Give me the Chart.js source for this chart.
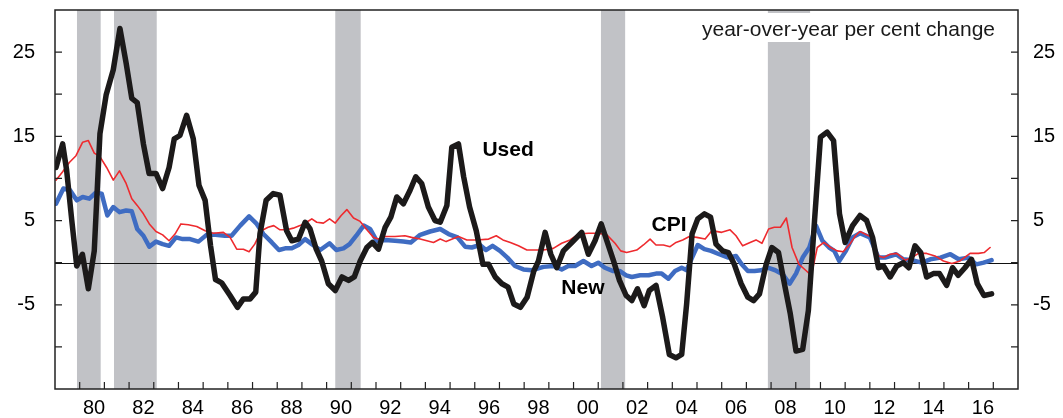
<!DOCTYPE html>
<html>
<head>
<meta charset="utf-8">
<script src="https://cdn.jsdelivr.net/npm/chart.js@4.4.1/dist/chart.umd.min.js"></script>
<style>
  html, body { margin: 0; padding: 0; background: #fff; }
</style>
</head>
<body>
<canvas id="carChart" width="1063" height="418"></canvas>
<script>
// Used vehicle prices, year-over-year % change (decimal year / value)
const usedYears = [1979.04,1979.31,1979.47,1979.68,1979.88,1980.11,1980.35,1980.59,1980.82,1981.07,1981.36,1981.63,1981.88,1982.11,1982.33,1982.58,1982.81,1983.09,1983.36,1983.62,1983.83,1984.06,1984.33,1984.6,1984.83,1985.08,1985.3,1985.5,1985.75,1986.09,1986.39,1986.63,1986.9,1987.13,1987.3,1987.55,1987.84,1988.11,1988.38,1988.59,1988.86,1989.13,1989.33,1989.58,1989.8,1990.07,1990.35,1990.62,1990.89,1991.12,1991.36,1991.63,1991.85,1992.1,1992.37,1992.6,1992.84,1993.11,1993.38,1993.61,1993.85,1994.12,1994.39,1994.6,1994.87,1995.07,1995.34,1995.55,1995.79,1996.06,1996.33,1996.56,1996.83,1997.1,1997.35,1997.58,1997.85,1998.12,1998.39,1998.58,1998.85,1999.08,1999.32,1999.59,1999.93,2000.33,2000.6,2000.87,2001.12,2001.35,2001.62,2001.86,2002.13,2002.36,2002.59,2002.86,2003.07,2003.34,2003.61,2003.88,2004.15,2004.38,2004.58,2004.8,2005.03,2005.3,2005.55,2005.77,2006.04,2006.27,2006.51,2006.79,2007.06,2007.29,2007.53,2007.8,2008.03,2008.3,2008.54,2008.78,2009.01,2009.28,2009.51,2009.76,2010.0,2010.27,2010.53,2010.77,2011.0,2011.3,2011.6,2011.87,2012.11,2012.35,2012.55,2012.82,2013.09,2013.36,2013.58,2013.83,2014.06,2014.3,2014.57,2014.82,2015.11,2015.35,2015.58,2015.85,2016.12,2016.35,2016.62,2016.93];
const usedValues = [11.3,14.1,11.0,5.0,-0.4,1.0,-3.1,1.4,15.3,19.9,22.9,27.8,23.7,19.5,19.0,14.1,10.6,10.6,8.8,11.3,14.7,15.1,17.5,14.7,9.2,7.4,2.0,-2.0,-2.4,-3.9,-5.3,-4.3,-4.3,-3.5,3.4,7.4,8.2,8.0,3.8,2.6,2.8,4.8,4.0,1.6,0.2,-2.5,-3.3,-1.7,-2.1,-1.7,0.2,1.8,2.4,1.6,4.2,5.4,7.8,7.0,8.6,10.2,9.4,6.6,5.0,4.8,6.8,13.7,14.1,10.2,6.6,3.8,-0.2,-0.2,-1.7,-2.5,-2.9,-4.9,-5.3,-4.1,-1.0,0.2,3.6,1.0,-0.6,1.4,2.4,3.6,1.0,2.6,4.6,2.6,0.2,-2.1,-3.9,-4.5,-3.1,-5.1,-3.3,-2.7,-6.5,-10.9,-11.3,-10.9,-4.9,3.4,5.2,5.8,5.4,2.2,1.4,1.2,-0.2,-2.5,-4.1,-4.5,-3.7,-0.2,1.8,1.2,-2.5,-6.1,-10.5,-10.3,-5.7,5.0,14.9,15.5,14.5,5.8,2.4,4.4,5.6,5.0,3.0,-0.6,-0.4,-1.7,-0.4,0.0,-0.6,2.0,1.2,-1.7,-1.3,-1.3,-2.7,-0.6,-1.5,-0.6,0.4,-2.5,-3.9,-3.7];

// New vehicle prices
const newYears = [1979.04,1979.34,1979.61,1979.88,1980.12,1980.39,1980.65,1980.89,1981.12,1981.36,1981.61,1981.88,1982.11,1982.33,1982.58,1982.82,1983.09,1983.36,1983.62,1983.9,1984.17,1984.47,1984.81,1985.14,1985.5,1985.88,1986.15,1986.5,1986.86,1987.17,1987.44,1987.78,1988.07,1988.32,1988.59,1988.86,1989.13,1989.4,1989.74,1990.12,1990.39,1990.68,1990.93,1991.2,1991.5,1991.76,1992.03,1992.37,1992.77,1993.11,1993.41,1993.79,1994.19,1994.6,1994.94,1995.3,1995.61,1995.88,1996.21,1996.45,1996.72,1997.02,1997.32,1997.63,1997.97,1998.31,1998.78,1999.18,1999.52,1999.79,2000.06,2000.4,2000.73,2001.0,2001.27,2001.61,2001.88,2002.13,2002.36,2002.7,2003.04,2003.34,2003.57,2003.84,2004.11,2004.38,2004.58,2004.8,2005.03,2005.3,2005.57,2005.9,2006.27,2006.58,2006.81,2007.06,2007.33,2007.6,2007.87,2008.17,2008.48,2008.75,2009.01,2009.28,2009.55,2009.82,2010.08,2010.35,2010.56,2010.76,2011.03,2011.3,2011.6,2012.0,2012.35,2012.62,2013.06,2013.36,2013.7,2014.11,2014.45,2014.86,2015.26,2015.6,2016.0,2016.31,2016.61,2016.93];
const newValues = [7.0,8.8,8.6,7.4,7.8,7.6,8.3,8.2,5.6,6.6,6.0,6.2,6.1,4.0,3.2,1.9,2.5,2.2,2.0,3.0,2.8,2.8,2.5,3.3,3.3,3.2,3.2,4.4,5.5,4.6,3.4,2.4,1.5,1.7,1.7,2.1,2.8,2.2,1.5,2.3,1.5,1.7,2.2,3.2,4.4,4.0,2.6,2.7,2.6,2.5,2.4,3.3,3.7,4.0,3.4,3.0,1.9,1.8,2.1,1.5,2.0,1.4,0.6,-0.4,-0.8,-0.9,-0.5,-0.4,-0.8,-0.4,-0.4,0.2,-0.4,0.0,-0.6,-1.0,-1.0,-1.5,-1.7,-1.5,-1.5,-1.3,-1.3,-1.9,-1.0,-0.6,-0.9,0.6,2.1,1.6,1.4,1.0,0.6,0.8,-0.2,-1.0,-1.0,-0.9,-0.6,-0.9,-1.4,-2.5,-1.3,0.6,1.8,4.4,2.6,1.8,1.4,0.2,1.4,3.0,3.5,3.0,0.6,0.6,1.0,0.4,0.3,0.0,0.4,0.6,1.0,0.4,0.6,-0.2,0.0,0.3];

// Consumer price index
const cpiYears = [1979.04,1979.31,1979.58,1979.85,1980.12,1980.35,1980.59,1980.82,1981.09,1981.36,1981.61,1981.88,1982.11,1982.33,1982.58,1982.82,1983.09,1983.36,1983.62,1983.86,1984.1,1984.4,1984.74,1985.08,1985.41,1985.82,1986.09,1986.36,1986.63,1986.86,1987.09,1987.36,1987.63,1987.86,1988.11,1988.38,1988.65,1988.92,1989.19,1989.4,1989.6,1989.87,1990.12,1990.35,1990.59,1990.82,1991.09,1991.36,1991.63,1991.9,1992.1,1992.37,1992.77,1993.17,1993.44,1993.79,1994.33,1994.6,1994.84,1995.34,1995.68,1996.09,1996.56,1996.87,1997.14,1997.44,1997.77,1998.11,1998.78,1999.18,1999.52,1999.86,2000.2,2000.6,2001.0,2001.35,2001.68,2001.91,2002.15,2002.56,2002.83,2003.1,2003.34,2003.64,2003.91,2004.15,2004.42,2004.69,2004.99,2005.33,2005.6,2006.0,2006.34,2006.58,2006.85,2007.15,2007.39,2007.63,2007.9,2008.13,2008.38,2008.62,2008.85,2009.13,2009.4,2009.63,2009.87,2010.14,2010.41,2010.68,2010.92,2011.19,2011.42,2011.6,2012.08,2012.35,2012.55,2012.82,2013.09,2013.43,2013.7,2013.97,2014.3,2014.64,2014.98,2015.32,2015.65,2016.06,2016.4,2016.63,2016.87];
const cpiValues = [9.8,10.8,11.9,12.7,14.3,14.5,13.0,12.6,11.3,9.8,10.9,9.4,7.6,6.8,5.8,4.6,3.7,3.3,2.6,3.4,4.6,4.5,4.3,3.8,3.5,3.6,3.0,1.6,1.6,1.3,2.2,3.8,4.2,4.4,3.9,3.9,4.1,4.4,4.8,5.2,4.8,4.7,5.2,4.7,5.6,6.3,5.3,4.9,3.9,3.0,2.8,3.1,3.1,3.2,3.0,2.8,2.4,2.8,2.5,3.1,2.7,2.7,2.8,3.2,2.7,2.4,2.0,1.5,1.5,1.7,2.3,2.7,3.4,3.5,3.5,3.3,2.3,1.4,1.2,1.5,2.1,2.8,2.1,2.1,1.9,2.4,2.7,3.1,3.0,2.8,3.8,3.6,3.9,3.2,2.0,2.4,2.7,2.3,4.0,4.2,4.2,5.3,1.8,-0.2,-0.9,-1.5,1.8,2.4,1.8,1.4,1.3,2.2,3.2,3.7,3.0,0.8,0.6,1.0,1.1,0.3,0.6,1.1,1.1,0.8,0.2,-0.1,0.2,1.1,1.1,1.2,1.8];

// Recession periods (shaded)
const recessionStarts = [1979.89, 1981.39, 1990.35, 2001.11, 2007.87];
const recessionEnds   = [1980.85, 1983.12, 1991.38, 2002.09, 2009.58];

// Axis labels
const labelYears = [1980,1982,1984,1986,1988,1990,1992,1994,1996,1998,2000,2002,2004,2006,2008,2010,2012,2014,2016];
const yearLabels = ['80','82','84','86','88','90','92','94','96','98','00','02','04','06','08','10','12','14','16'];
const yLabelValues = [25, 15, 5, -5];
const yMarkValues = [-10, -5, 0, 5, 10, 15, 20, 25];

const pts = (xs, ys) => xs.map((x, i) => ({ x: x, y: ys[i] }));

const tickFont = { family: "'Liberation Sans', Arial, sans-serif", size: 20 };

// Shading, zero line, frame, inward ticks and text labels
const decor = {
    id: 'decor',
    beforeDatasetsDraw(chart) {
        const { ctx, chartArea: a, scales: { x, y } } = chart;
        ctx.save();
        ctx.fillStyle = '#c1c2c6';
        recessionStarts.forEach((s, i) => {
            const x0 = x.getPixelForValue(s);
            const x1 = x.getPixelForValue(recessionEnds[i]);
            ctx.fillRect(x0, a.top, x1 - x0, a.bottom - a.top);
        });
        // white box behind the unit note
        ctx.font = "21px 'Liberation Sans', Arial, sans-serif";
        const note = 'year-over-year per cent change';
        const w = ctx.measureText(note).width;
        ctx.fillStyle = '#fff';
        ctx.fillRect(a.right - 23 - w - 8, a.top + 3, w + 30, 29);
        ctx.fillStyle = '#1a1a1a';
        ctx.textAlign = 'right';
        ctx.textBaseline = 'alphabetic';
        ctx.fillText(note, a.right - 23, a.top + 25.5);
        // zero line
        const y0 = Math.round(y.getPixelForValue(0)) + 0.5;
        ctx.strokeStyle = '#111';
        ctx.lineWidth = 1;
        ctx.beginPath();
        ctx.moveTo(a.left, y0);
        ctx.lineTo(a.right, y0);
        ctx.stroke();
        ctx.restore();
    },
    afterDatasetsDraw(chart) {
        const { ctx, chartArea: a, scales: { x, y } } = chart;
        ctx.save();
        ctx.strokeStyle = '#222';
        ctx.lineWidth = 1.5;
        ctx.strokeRect(a.left, a.top, a.right - a.left, a.bottom - a.top);
        ctx.lineWidth = 1.2;
        ctx.beginPath();
        yMarkValues.forEach(v => {
            const py = y.getPixelForValue(v);
            ctx.moveTo(a.left, py); ctx.lineTo(a.left + 7, py);
            ctx.moveTo(a.right, py); ctx.lineTo(a.right - 7, py);
        });
        for (let yr = 1980; yr <= 2017; yr++) {
            const px = x.getPixelForValue(yr);
            ctx.moveTo(px, a.bottom); ctx.lineTo(px, a.bottom - 7);
        }
        ctx.stroke();
        // series names
        ctx.fillStyle = '#000';
        ctx.font = "bold 21px 'Liberation Sans', Arial, sans-serif";
        ctx.textAlign = 'center';
        ctx.textBaseline = 'middle';
        ctx.fillText('Used', x.getPixelForValue(1997.35), y.getPixelForValue(13.3));
        ctx.fillText('CPI', x.getPixelForValue(2003.87), y.getPixelForValue(4.4));
        ctx.fillText('New', x.getPixelForValue(2000.38), y.getPixelForValue(-3.0));
        ctx.restore();
    }
};

// fixed axis sizes so the plot box lands where the original has it
const fixSize = (w, h) => s => {
    if (w !== null) s.width = w;
    if (h !== null) s.height = h;
    s.paddingTop = 0; s.paddingBottom = 0; s.paddingLeft = 0; s.paddingRight = 0;
};

const yAxis = (pos, pad, w) => ({
    type: 'linear',
    position: pos,
    min: -15,
    max: 30,
    grid: { display: false, drawTicks: false },
    border: { display: false },
    afterBuildTicks: s => { s.ticks = yLabelValues.map(v => ({ value: v })); },
    afterFit: fixSize(w, null),
    ticks: { font: tickFont, color: '#000', padding: pad, callback: v => String(v) }
});

new Chart(document.getElementById('carChart'), {
    type: 'line',
    data: {
        datasets: [
            { label: 'Used', data: pts(usedYears, usedValues), borderColor: '#1c1a1a', borderWidth: 5.5 },
            { label: 'CPI', data: pts(cpiYears, cpiValues), borderColor: '#ee2a2e', borderWidth: 1.6 },
            { label: 'New', data: pts(newYears, newValues), borderColor: '#3f6cc2', borderWidth: 4.5 }
        ]
    },
    options: {
        responsive: false,
        animation: false,
        layout: { padding: { left: 0, right: 0, top: 10, bottom: 0 } },
        plugins: { legend: { display: false }, tooltip: { enabled: false } },
        elements: {
            point: { radius: 0 },
            line: { tension: 0, borderJoinStyle: 'round', borderCapStyle: 'round' }
        },
        scales: {
            x: {
                type: 'linear',
                min: 1979,
                max: 2018,
                grid: { display: false, drawTicks: false },
                border: { display: false },
                afterBuildTicks: s => { s.ticks = labelYears.map(v => ({ value: v + 0.58 })); },
                afterFit: fixSize(null, 29),
                ticks: { font: tickFont, color: '#000', padding: 7, autoSkip: false, maxRotation: 0,
                         callback: (v, i) => yearLabels[i] }
            },
            y: yAxis('left', 20, 55),
            y2: yAxis('right', 15, 45)
        }
    },
    plugins: [decor]
});
</script>
</body>
</html>
